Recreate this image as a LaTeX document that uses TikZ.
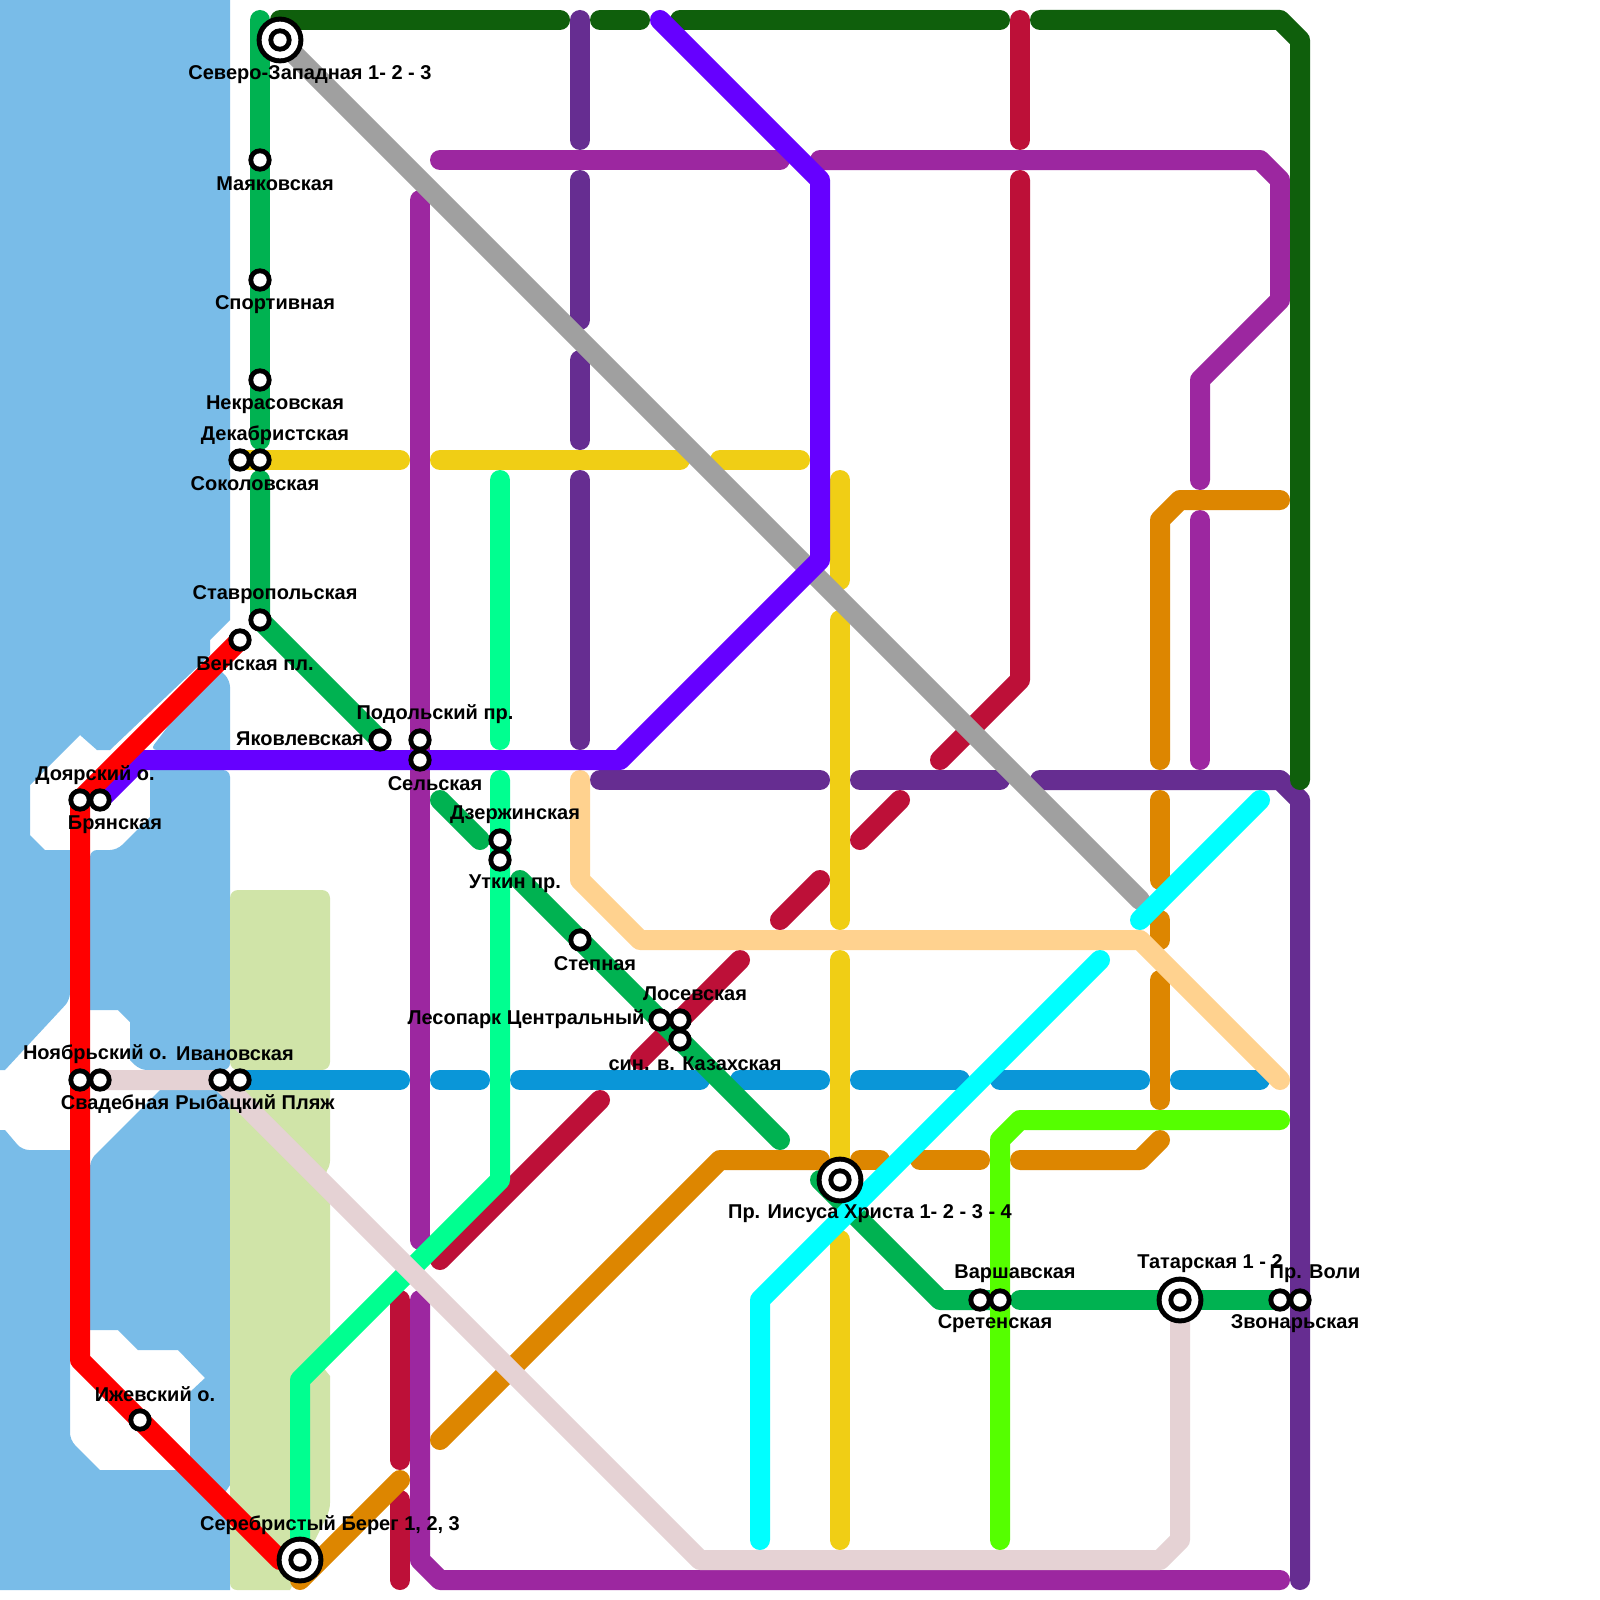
\documentclass[tikz,border=0pt]{standalone}
\usepackage{fontspec}
\setmainfont{Liberation Sans}
\definecolor{water}{HTML}{79BCE8}
\definecolor{park}{HTML}{D0E4A8}
\definecolor{cgreen}{HTML}{00B251}
\definecolor{cdgreen}{HTML}{0F5F0C}
\definecolor{cviolet}{HTML}{6600FF}
\definecolor{cpurple}{HTML}{9C27A0}
\definecolor{cdpurple}{HTML}{662D91}
\definecolor{ccrimson}{HTML}{BD1038}
\definecolor{corange}{HTML}{DD8600}
\definecolor{cyellow}{HTML}{F0CE15}
\definecolor{cmint}{HTML}{00FF90}
\definecolor{cblue}{HTML}{0A96D8}
\definecolor{cpeach}{HTML}{FFD28F}
\definecolor{cgray}{HTML}{A0A0A0}
\definecolor{clime}{HTML}{55FF00}
\definecolor{cpink}{HTML}{E5D2D4}
\definecolor{ccyan}{HTML}{00FFFF}
\definecolor{cred}{HTML}{FF0000}
\tikzset{
  wat/.style={fill=water},
  rc/.style={rounded corners=3.5pt},
  prk/.style={fill=park,rounded corners=4pt},
  ln/.style={line width=10pt,line cap=round,line join=round},
  st/.style={circle,fill=black,draw=none,outer sep=0pt,inner sep=0pt,minimum size=11.67pt,
    path picture={\fill[white] (path picture bounding box.center) circle (3.33pt);}},
  bigouter/.style={circle,fill=black,draw=none,outer sep=0pt,inner sep=0pt,minimum size=23.4pt,
    path picture={\fill[white] (path picture bounding box.center) circle (9.17pt);}},
  lb/.style={font=\bfseries\fontsize{10}{11}\selectfont,inner sep=0pt,text=black},
}
\begin{document}
\begin{tikzpicture}[x=0.5pt,y=-0.5pt]
\useasboundingbox (0,0) rectangle (1600,1600);
\fill[white] (0,0) rectangle (1600,1600);
% water
\path[wat] (-20,-20) -- (230,-20) -- (230,620) -- (210,640) -- (210,655) -- (110,750) -- (97,750) -- (80,735) -- (30,785) -- (30,835) -- (45,850) -- (70,850) [rc] -- (70,1000) [sharp corners] -- (5,1070) [rc] -- (-20,1070) [sharp corners] -- cycle;
\path[wat] (215,665) -- (220,670) [rc] -- (230,680) [sharp corners] -- (230,750) [rc] -- (150,750) [sharp corners] -- cycle;
\path[wat] (150,770) [rc] -- (230,770) -- (230,1070) -- (140,1070) [sharp corners] -- (130,1060) -- (130,1022) -- (118,1010) -- (90,1010) [rc] -- (90,850) -- (117,850) [sharp corners] -- (150,817) -- (150,770) -- cycle;
\path[wat] (160,1090) [rc] -- (230,1090) [sharp corners] -- (230,1485) [rc] -- (220,1500) [sharp corners] -- (190,1470) -- (190,1392) -- (205,1378) -- (178,1350) -- (138,1350) -- (118,1330) -- (90,1330) [rc] -- (90,1160) [sharp corners] -- cycle;
\path[wat] (-20,1130) -- (5,1130) [rc] -- (22,1150) [sharp corners] -- (70,1150) [rc] -- (70,1440) [sharp corners] -- (100,1470) -- (190,1470) -- (230,1510) -- (230,1590) [rc] -- (-20,1590) [sharp corners] -- cycle;
% park
\path[prk] (230,890) -- (330,890) -- (330,1070) -- (230,1070) -- cycle;
\path[fill=park] (230,1090) -- (330,1090) [rc] -- (330,1168) -- (322,1176) [sharp corners] -- (330,1190) -- (330,1340) -- (322,1350) -- (322,1366) -- (330,1376) [rc] -- (330,1510) [sharp corners] -- (290,1590) [rc] -- (230,1590) [sharp corners] -- cycle;
% coordinates
\coordinate (g0) at (260,20); \coordinate (g1) at (260,440); \coordinate (g2) at (260,480); \coordinate (g3) at (260,620); \coordinate (g4) at (380,740);
% lines
\draw[ln,cgreen] (g0) -- (g1);
\draw[ln,cyellow] (240,460) -- (400,460);
\draw[ln,cyellow] (440,460) -- (680,460);
\draw[ln,cyellow] (720,460) -- (800,460);
\draw[ln,cyellow] (840,480) -- (840,580);
\draw[ln,cyellow] (840,620) -- (840,920);
\draw[ln,cyellow] (840,960) -- (840,1180);
\draw[ln,cyellow] (840,1240) -- (840,1540);
\draw[ln,cpurple] (420,200) -- (420,1240);
\draw[ln,cpurple] (420,1300) -- (420,1560) -- (440,1580) -- (1280,1580);
\draw[ln,cpurple] (440,160) -- (780,160);
\draw[ln,cpurple] (820,160) -- (1260,160) -- (1280,180) -- (1280,300) -- (1200,380) -- (1200,480);
\draw[ln,cpurple] (1200,520) -- (1200,760);
\draw[ln,cdpurple] (580,20) -- (580,140);
\draw[ln,cdpurple] (580,180) -- (580,320);
\draw[ln,cdpurple] (580,360) -- (580,440);
\draw[ln,cdpurple] (580,480) -- (580,740);
\draw[ln,cdpurple] (600,780) -- (820,780);
\draw[ln,cdpurple] (860,780) -- (1000,780);
\draw[ln,cdpurple] (1040,780) -- (1280,780) -- (1300,800) -- (1300,1580);
\draw[ln,cdgreen] (280,20) -- (560,20);
\draw[ln,cdgreen] (600,20) -- (640,20);
\draw[ln,cdgreen] (680,20) -- (1000,20);
\draw[ln,cdgreen] (1040,20) -- (1280,20) -- (1300,40) -- (1300,780);
\draw[ln,ccrimson] (1020,20) -- (1020,140);
\draw[ln,ccrimson] (1020,180) -- (1020,680) -- (940,760);
\draw[ln,ccrimson] (860,840) -- (900,800);
\draw[ln,ccrimson] (780,920) -- (820,880);
\draw[ln,ccrimson] (740,960) -- (640,1060);
\draw[ln,ccrimson] (600,1100) -- (440,1260);
\draw[ln,ccrimson] (400,1300) -- (400,1460);
\draw[ln,ccrimson] (400,1500) -- (400,1580);
\draw[ln,corange] (300,1580) -- (400,1480);
\draw[ln,corange] (440,1440) -- (720,1160) -- (820,1160);
\draw[ln,corange] (860,1160) -- (880,1160);
\draw[ln,corange] (920,1160) -- (980,1160);
\draw[ln,corange] (1020,1160) -- (1140,1160) -- (1160,1140);
\draw[ln,corange] (1160,760) -- (1160,520) -- (1180,500) -- (1280,500);
\draw[ln,corange] (1160,800) -- (1160,880);
\draw[ln,corange] (1160,920) -- (1160,940);
\draw[ln,corange] (1160,980) -- (1160,1100);
\draw[ln,cblue] (240,1080) -- (400,1080);
\draw[ln,cblue] (440,1080) -- (480,1080);
\draw[ln,cblue] (520,1080) -- (700,1080);
\draw[ln,cblue] (740,1080) -- (820,1080);
\draw[ln,cblue] (860,1080) -- (960,1080);
\draw[ln,cblue] (1000,1080) -- (1140,1080);
\draw[ln,cblue] (1180,1080) -- (1260,1080);
\draw[ln,cgreen] (g2) -- (g3) -- (g4);
\draw[ln,cgreen] (440,800) -- (480,840);
\draw[ln,cgreen] (520,880) -- (780,1140);
\draw[ln,cgreen] (820,1180) -- (940,1300) -- (1000,1300);
\draw[ln,cgreen] (1020,1300) -- (1280,1300);
\draw[ln,cmint] (500,480) -- (500,740);
\draw[ln,cmint] (500,780) -- (500,1180) -- (300,1380) -- (300,1560);
\draw[ln,cpink] (100,1080) -- (220,1080) -- (700,1560) -- (1160,1560) -- (1180,1540) -- (1180,1300);
\draw[ln,cpeach] (580,780) -- (580,880) -- (640,940) -- (1140,940) -- (1280,1080);
\draw[ln,clime] (1000,1540) -- (1000,1140) -- (1020,1120) -- (1280,1120);
\draw[ln,cgray] (280,40) -- (1140,900);
\draw[ln,cviolet] (660,20) -- (820,180) -- (820,560) -- (620,760) -- (140,760) -- (100,800);
\draw[ln,cred] (240,640) -- (80,800) -- (80,1360) -- (280,1560) -- (300,1560);
\draw[ln,ccyan] (1260,800) -- (1140,920);
\draw[ln,ccyan] (1100,960) -- (760,1300) -- (760,1540);
% big stations
\node[bigouter] (bNW) at (280,40) {};
\node[bigouter] (bHR) at (840,1180) {};
\node[bigouter] (bTA) at (1180,1300) {};
\node[bigouter] (bSE) at (300,1560) {};
% stations
\foreach \n/\x/\y in {sNWi/280/40,sHRi/840/1180,sTAi/1180/1300,sSEi/300/1560,sMa/260/160,sSp/260/280,sNe/260/380,sSo/240/460,sDe/260/460,sSt/260/620,sVe/240/640,sYa/380/740,sPo/420/740,sSe/420/760,sDo/80/800,sBr/100/800,sDz/500/840,sUt/500/860,sSn/580/940,sLe/660/1020,sLo/680/1020,sKa/680/1040,sNo/80/1080,sSv/100/1080,sIv/220/1080,sRy/240/1080,sIz/140/1420,sSr/980/1300,sVa/1000/1300,sZv/1280/1300,sVo/1300/1300}
  \node[st] (\n) at (\x,\y) {};
% labels
\node[lb] (t1) at (310,75) {Северо-Западная 1- 2 - 3};
\node[lb] (t2) at (275,184) {Маяковская};
\node[lb] (t3) at (275,305) {Спортивная};
\node[lb] (t4) at (275,405) {Некрасовская};
\node[lb] (t5) at (275,435) {Декабристская};
\node[lb] (t6) at (255,484) {Соколовская};
\node[lb] (t7) at (275,595) {Ставропольская};
\node[lb] (t8) at (255,664) {Венская пл.};
\node[lb] (t9) at (300,739) {Яковлевская};
\node[lb] (t10) at (435,714) {Подольский пр.};
\node[lb] (t11) at (435,784) {Сельская};
\node[lb] (t12) at (95,775) {Доярский о.};
\node[lb] (t13) at (115,825) {Брянская};
\node[lb] (t14) at (515,815) {Дзержинская};
\node[lb] (t15) at (515,884) {Уткин пр.};
\node[lb] (t16) at (595,964) {Степная};
\node[lb] (t17) at (526,1019) {Лесопарк Центральный};
\node[lb] (t18) at (695,994) {Лосевская};
\node[lb] (t19) at (695,1064) {син. в. Казахская};
\node[lb] (t20) at (95,1054) {Ноябрьский о.};
\node[lb] (t21) at (235,1054) {Ивановская};
\node[lb] (t22) at (115,1104) {Свадебная};
\node[lb] (t23) at (255,1104) {Рыбацкий Пляж};
\node[lb] (t24) at (155,1394) {Ижевский о.};
\node[lb] (t25) at (330,1525) {Серебристый Берег 1, 2, 3};
\node[lb] (t26) at (870,1214) {Пр. Иисуса Христа 1- 2 - 3 - 4};
\node[lb] (t27) at (1015,1274) {Варшавская};
\node[lb] (t28) at (995,1324) {Сретенская};
\node[lb] (t29) at (1210,1264) {Татарская 1 - 2};
\node[lb] (t30) at (1315,1274) {Пр. Воли};
\node[lb] (t31) at (1295,1324) {Звонарьская};
\end{tikzpicture}
\end{document}
